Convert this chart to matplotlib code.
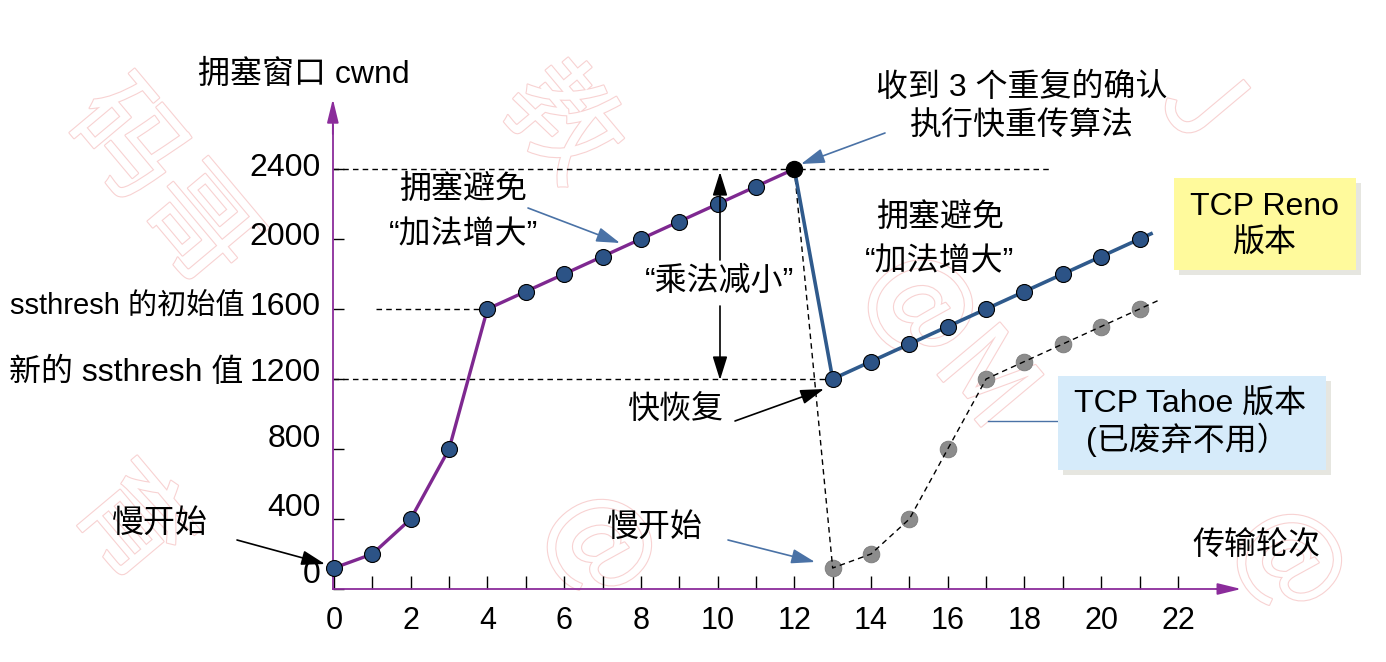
import matplotlib
matplotlib.use('Agg')
import matplotlib.pyplot as plt
from matplotlib.patches import Rectangle
from matplotlib.transforms import ScaledTranslation
import matplotlib.patheffects as pe

plt.rcParams['font.family'] = ['Liberation Sans', 'Noto Sans CJK SC', 'DejaVu Sans']

# ---------------- data ----------------
ss_rounds = [0, 1, 2, 3, 4, 5, 6, 7, 8, 9, 10, 11, 12]
ss_cwnd = [120, 200, 400, 800, 1600, 1700, 1800, 1900, 2000, 2100, 2200, 2300, 2400]

reno_rounds = [12, 13, 14, 15, 16, 17, 18, 19, 20, 21]
reno_cwnd = [2400, 1200, 1300, 1400, 1500, 1600, 1700, 1800, 1900, 2000]
reno_tail = (21.3, 2030)

tahoe_rounds = [12, 13, 14, 15, 16, 17, 18, 19, 20, 21]
tahoe_cwnd = [2400, 120, 200, 400, 800, 1200, 1300, 1400, 1500, 1600]
tahoe_tail = (21.5, 1650)

xticks = list(range(0, 23))
xtick_labels = [str(v) if v % 2 == 0 else '' for v in xticks]
yticks = [0, 400, 800, 1200, 1600, 2000, 2400]
ytick_labels = [str(v) for v in yticks]

ssthresh_init = 1600
ssthresh_new = 1200
peak = 2400

# ---------------- style ----------------
PURPLE_AX = '#8B2C9B'
PURPLE = '#7E2890'
BLUE_LINE = '#2F5A8C'
MARK = '#2C5386'
GRAY = '#8C8C8C'
ARROW_BLUE = '#4A72A6'
FS = 23

fig = plt.figure(figsize=(13.86, 6.62), dpi=100)
ax = fig.add_axes([0, 0, 1, 1])

PX_X0, PX_UX = 334.0, 38.36      # pixel of x=0, pixels per round
PX_Y0, PX_UY = 589.0, 70.0 / 400  # pixel (from top) of y=0, pixels per cwnd unit
ax.set_xlim(-PX_X0 / PX_UX, (1386 - PX_X0) / PX_UX)
ax.set_ylim(-(662 - PX_Y0) / PX_UY, PX_Y0 / PX_UY)


def P(px, py):
    """figure pixel -> data coords (for annotation placement)"""
    return ((px - PX_X0) / PX_UX, (PX_Y0 - py) / PX_UY)


# ---------------- watermark ----------------
wm_fx = [pe.withStroke(linewidth=1.6, foreground='#f8d2d2')]
for (wx, wy, s) in [(160, 185, '码哥'), (560, 125, '教'), (600, 545, '@'),
                    (950, 340, '@M'), (1200, 105, 'J'), (130, 525, '育'),
                    (1290, 560, '@')]:
    ax.text(*P(wx, wy), s, rotation=-50, fontsize=80, color='white',
            ha='center', va='center', zorder=0, path_effects=wm_fx,
            family=['Noto Sans CJK SC', 'DejaVu Sans'])

# ---------------- axes ----------------
for s in ['top', 'right']:
    ax.spines[s].set_visible(False)
ax.spines['left'].set_position(('data', -0.03))
ax.spines['bottom'].set_position(('data', 0))
ax.spines['left'].set_bounds(0, 2650)
ax.spines['bottom'].set_bounds(-0.03, 23.2)
for s in ['left', 'bottom']:
    ax.spines[s].set_color(PURPLE_AX)
    ax.spines[s].set_linewidth(1.3)
ax.annotate('', xy=(-0.03, 2800), xytext=(-0.03, 2600),
            arrowprops=dict(arrowstyle='-|>,head_length=0.9,head_width=0.22',
                            color=PURPLE_AX, lw=1.3, mutation_scale=16,
                            shrinkA=0, shrinkB=0))
ax.annotate('', xy=(23.65, 0), xytext=(23.0, 0),
            arrowprops=dict(arrowstyle='-|>,head_length=0.9,head_width=0.22',
                            color=PURPLE_AX, lw=1.3, mutation_scale=16,
                            shrinkA=0, shrinkB=0))

ax.set_xticks(xticks)
ax.set_xticklabels(xtick_labels)
ax.set_yticks(yticks)
ax.set_yticklabels([''] * len(yticks))
ax.tick_params(axis='x', direction='in', length=9.5, width=1.0, color='black',
               labelsize=22, pad=12)
ax.tick_params(axis='y', direction='in', length=8, width=1.0, color='black')

# y tick labels (drawn slightly raised, as in the reference)
y_label_raise_px = [14, 11, 10, 6, 2, 2, 1]
for v, lab, dy in zip(yticks, ytick_labels, y_label_raise_px):
    tr = ax.transData + ScaledTranslation(-12 / 100, dy / 100, fig.dpi_scale_trans)
    ax.text(-0.03, v, lab, transform=tr, ha='right', va='center', fontsize=23,
            color='black')

# ---------------- reference dashed lines ----------------
dash = dict(color='black', lw=1.0, ls=(0, (4, 3)), zorder=1)
ax.plot([-0.03, 18.65], [peak, peak], **dash)
ax.plot([1.1, 4], [ssthresh_init, ssthresh_init], **dash)
ax.plot([-0.03, 13], [ssthresh_new, ssthresh_new], **dash)

# ---------------- Tahoe ----------------
ax.plot(tahoe_rounds[1:], tahoe_cwnd[1:], 'o', ms=12, mfc=GRAY, mec='#7a7a7a',
        mew=0.6, zorder=2)
ax.plot(tahoe_rounds + [tahoe_tail[0]], tahoe_cwnd + [tahoe_tail[1]],
        color='black', lw=1.0, ls=(0, (4, 3)), zorder=2.5)

# ---------------- slow start + congestion avoidance ----------------
ax.plot(ss_rounds, ss_cwnd, color=PURPLE, lw=2.4, zorder=3)
ax.plot(ss_rounds[:-1], ss_cwnd[:-1], 'o', ms=11.5, mfc=MARK, mec='black',
        mew=0.8, zorder=4)

# ---------------- Reno ----------------
ax.plot(reno_rounds + [reno_tail[0]], reno_cwnd + [reno_tail[1]],
        color=BLUE_LINE, lw=2.6, zorder=3)
ax.plot(reno_rounds[1:], reno_cwnd[1:], 'o', ms=11.5, mfc=MARK, mec='black',
        mew=0.8, zorder=4)
ax.plot([ss_rounds[-1]], [ss_cwnd[-1]], 'o', ms=11.5, mfc='black',
        mec='black', zorder=5)


# ---------------- texts ----------------
def T(px, py, s, ha='center', fs=FS, **kw):
    ax.text(*P(px, py), s, ha=ha, va='center', fontsize=fs, color='black',
            zorder=6, **kw)


T(198, 75, '拥塞窗口 cwnd', ha='left')
T(1022, 88, '收到 3 个重复的确认')
T(1022, 127, '执行快重传算法')
T(463, 190, '拥塞避免')
T(463, 235, '“加法增大”')
T(940, 218, '拥塞避免')
T(940, 262, '“加法增大”')
T(720, 282, '“乘法减小”')
T(675, 410, '快恢复')
T(160, 524, '慢开始')
T(655, 528, '慢开始')
T(1256, 547, '传输轮次')
T(244, 306, 'ssthresh 的初始值', ha='right', fs=21)
T(243, 373, '新的 ssthresh 值', ha='right')


# boxes
def box(x0, y0, x1, y1, fc):
    bx, by = P(x0, y1)
    w = (x1 - x0) / PX_UX
    h = (y1 - y0) / PX_UY
    sx, sy = P(x0 + 5, y1 + 5)
    ax.add_patch(Rectangle((sx, sy), w, h, fc='#e6e6e0', ec='none', zorder=5))
    ax.add_patch(Rectangle((bx, by), w, h, fc=fc, ec='none', zorder=5.5))


box(1174, 178, 1356, 270, '#FFFA9C')
T(1265, 207, 'TCP Reno')
T(1265, 244, '版本')
box(1058, 376, 1326, 470, '#D6EBFA')
T(1190, 405, 'TCP Tahoe 版本')
T(1187, 440, '(已废弃不用）')
ax.plot([P(988, 0)[0], P(1058, 0)[0]], [P(0, 421)[1]] * 2, color=ARROW_BLUE,
        lw=1.0, zorder=5)


# arrows
def A(p_from, p_to, color):
    ax.annotate('', xy=P(*p_to), xytext=P(*p_from),
                arrowprops=dict(arrowstyle='-|>,head_length=0.8,head_width=0.25',
                                color=color, lw=1.2, mutation_scale=18,
                                shrinkA=0, shrinkB=0), zorder=6)


A((885, 133), (801, 164), ARROW_BLUE)
A((528, 208), (620, 243), ARROW_BLUE)
A((237, 540), (325, 564), 'black')
A((728, 540), (815, 562), ARROW_BLUE)
A((735, 421), (824, 389), 'black')
A((720, 260), (720, 172), 'black')
A((720, 306), (720, 380), 'black')

fig.savefig('out.png', dpi=100)
